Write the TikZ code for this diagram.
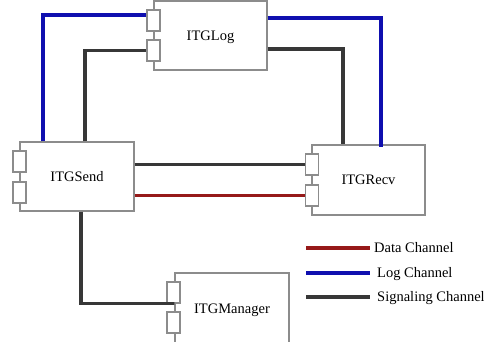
\documentclass[tikz,border=0pt]{standalone}
\usepackage{fontspec}
\setmainfont{Liberation Serif}
\definecolor{boxgray}{RGB}{140,140,140}
\definecolor{logblue}{RGB}{15,15,175}
\definecolor{datared}{RGB}{150,25,25}
\definecolor{sigblack}{RGB}{55,55,55}
\begin{document}
\begin{tikzpicture}[x=1pt,y=-1pt,
  comp/.style={draw=boxgray,line width=1.2pt,fill=white,inner sep=0pt,text height=9.5pt,text depth=0pt,font=\fontsize{14.5}{16}\selectfont},
  port/.style={draw=boxgray,line width=1.2pt,fill=white,inner sep=0pt,minimum width=13pt,minimum height=21pt},
  logc/.style={draw=logblue,line width=3.2pt},
  datac/.style={draw=datared,line width=3.2pt},
  sigc/.style={draw=sigblack,line width=3.2pt},
  legtext/.style={anchor=base west,inner sep=0pt,font=\fontsize{14.5}{16}\selectfont}]
\clip (0,0) rectangle (484,341);
\fill[white] (0,0) rectangle (484,341);
% components
\node[comp,minimum width=113pt,minimum height=69pt] (log) at (210.5,35.5) {ITGLog};
\node[comp,minimum width=114pt,minimum height=69pt] (send) at (77,176.5) {ITGSend};
\node[comp,minimum width=113pt,minimum height=70pt] (recv) at (368.5,180) {ITGRecv};
\node[comp,minimum width=114pt,minimum height=72pt] (mgr) at (232,309) {ITGManager};
% ports
\node[port] (lp1) at (153.5,20.5) {};
\node[port] (lp2) at (153.5,50.5) {};
\node[port] (sp1) at (19.5,161.5) {};
\node[port] (sp2) at (19.5,192.5) {};
\node[port] (rp1) at (312,164.5) {};
\node[port] (rp2) at (312,195.5) {};
\node[port] (mp1) at (173.5,292.5) {};
\node[port] (mp2) at (173.5,322.5) {};
% connectors
\draw[logc] ([xshift=-34pt]send.north) |- ([yshift=5.5pt]lp1.west);
\draw[sigc] ([xshift=8pt]send.north) |- (lp2.west);
\draw[logc] ([yshift=17.5pt]log.east) -| ([xshift=12.5pt,yshift=-3pt]recv.north);
\draw[sigc] ([yshift=-13.5pt]log.east) -| ([xshift=-25.5pt]recv.north);
\draw[sigc] (send.east |- rp1.west) -- (rp1.west);
\draw[datac] (send.east |- rp2.west) -- (rp2.west);
\draw[sigc] ([xshift=4pt]send.south) |- (mgr.west |- mp1.south) -- (mp1.south west);
% legend
\node[legtext] (ld) at (374,252.7) {Data Channel};
\node[legtext] (ll) at (377,277.7) {Log Channel};
\node[legtext] (ls) at (377,301.7) {Signaling Channel};
\coordinate (ld0) at (306,248);
\coordinate (ll0) at (306,273);
\coordinate (ls0) at (306,297);
\draw[datac] (ld0) -- (ld0 -| 370,0);
\draw[logc] (ll0) -- (ll0 -| 370,0);
\draw[sigc] (ls0) -- (ls0 -| 370,0);
\end{tikzpicture}
\end{document}
